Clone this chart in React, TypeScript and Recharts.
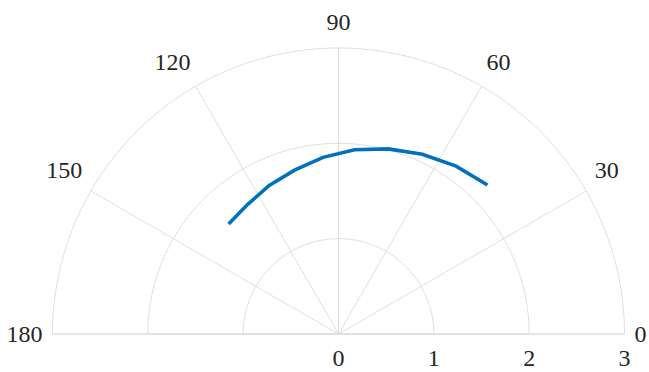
import { Curve, PolarAngleAxis, PolarGrid, PolarRadiusAxis, Radar, RadarChart } from 'recharts'

// theta in degrees, r in data units
const THETA = [45, 55, 65, 75, 85, 95, 105, 115, 125, 135]
const RHO = [2.21, 2.15, 2.08, 2.01, 1.94, 1.86, 1.78, 1.72, 1.66, 1.63]
const ANGLE_TICKS = [0, 30, 60, 90, 120, 150, 180]
const RADIUS_TICKS = [0, 1, 2, 3]

const data = THETA.map((theta, i) => ({ theta, r: RHO[i] }))

// dense angles so the concentric polygons read as half circles
const ARC = Array.from({ length: 181 }, (_, i) => i)

const FONT = "'Liberation Serif', 'DejaVu Serif', serif"
const TEXT = '#262626'
const GRID = '#dedede'

const textStyle = { fontFamily: FONT, fontSize: 24 }

function AngleTick(props: any) {
  const { x, y, textAnchor, payload } = props
  const flat = payload.value === 0 || payload.value === 180
  return (
    <text
      x={x}
      y={flat ? y : y - 8}
      textAnchor={textAnchor}
      dominantBaseline={flat ? 'central' : 'auto'}
      style={textStyle}
      fill={TEXT}
    >
      {payload.value}
    </text>
  )
}

function RadiusTick(props: any) {
  const { x, y, payload } = props
  return (
    <text x={x} y={y + 32} textAnchor="middle" style={textStyle} fill={TEXT}>
      {payload.value}
    </text>
  )
}

export default function App() {
  return (
    <>
      <style>{'body{margin:0}'}</style>
      <RadarChart
        width={649}
        height={372}
        data={data}
        cx={338.5}
        cy={334}
        innerRadius={0}
        outerRadius={286}
        startAngle={0}
        endAngle={180}
      >
        <PolarGrid gridType="polygon" polarAngles={ARC} radialLines={false} stroke={GRID} />
        <PolarGrid gridType="polygon" polarRadius={[]} stroke={GRID} />
        <PolarAngleAxis
          dataKey="theta"
          type="number"
          domain={[0, 180]}
          ticks={ANGLE_TICKS}
          tickSize={10}
          tickLine={false}
          axisLine={false}
          tick={AngleTick}
        />
        <PolarRadiusAxis
          angle={0}
          type="number"
          domain={[0, 3]}
          ticks={RADIUS_TICKS}
          tickCount={4}
          axisLine={false}
          tickLine={false}
          tick={RadiusTick}
        />
        <Radar
          dataKey="r"
          isAnimationActive={false}
          shape={(p: any) => (
            <Curve points={p.points} type="linear" fill="none" stroke="#0072bd" strokeWidth={3.6} />
          )}
        />
      </RadarChart>
    </>
  )
}
